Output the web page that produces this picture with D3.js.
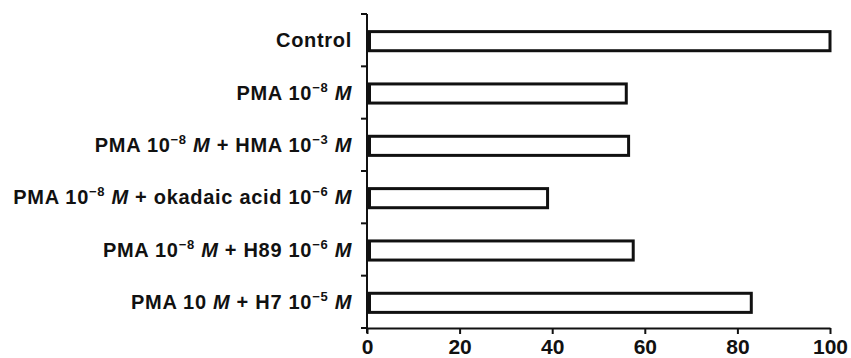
<!DOCTYPE html>
<html>
<head>
<meta charset="utf-8">
<script src="https://cdn.jsdelivr.net/npm/d3@7"></script>
<style>
  body { margin: 0; background: #fff; }
  svg text { font-family: "Liberation Sans", Arial, sans-serif; font-weight: bold; fill: #111; }
</style>
</head>
<body>
<svg id="chart" width="851" height="358"></svg>
<script>
// labels: "^" starts a superscript, a lone "M" is set in italics
var categories = [
  "Control",
  "PMA 10^-8 M",
  "PMA 10^-8 M + HMA 10^-3 M",
  "PMA 10^-8 M + okadaic acid 10^-6 M",
  "PMA 10^-8 M + H89 10^-6 M",
  "PMA 10 M + H7 10^-5 M"
];
var values = [100, 56, 56.5, 39, 57.5, 83];
var xTicks = [0, 20, 40, 60, 80, 100];

var svg = d3.select("#chart");

var x = d3.scaleLinear().domain([0, 100]).range([367, 830]);
var y = d3.scaleBand().domain(categories).range([14, 328]);

// bars
var barH = y.bandwidth() * 0.365;
svg.append("g")
  .selectAll("rect")
  .data(categories)
  .enter().append("rect")
  .attr("x", x(0) + 2.5)
  .attr("y", d => y(d) + y.bandwidth() / 2 - barH / 2 + 1)
  .attr("width", (d, i) => x(values[i]) - x(0) - 2.5)
  .attr("height", barH)
  .attr("fill", "#fff")
  .attr("stroke", "#111")
  .attr("stroke-width", 3);

// y axis: line plus ticks at band edges
var yEdges = categories.map(d => y(d)).concat([y.range()[1]]);
var ya = svg.append("g");
ya.append("line")
  .attr("x1", x(0)).attr("x2", x(0))
  .attr("y1", y.range()[0]).attr("y2", y.range()[1] + 5)
  .attr("stroke", "#111").attr("stroke-width", 2);
ya.selectAll(".yt")
  .data(yEdges)
  .enter().append("line")
  .attr("x1", x(0) - 6).attr("x2", x(0))
  .attr("y1", d => d).attr("y2", d => d)
  .attr("stroke", "#111").attr("stroke-width", 2);

// category labels with superscripts and italic M
var lab = ya.selectAll(".lab")
  .data(categories)
  .enter().append("text")
  .attr("x", x(0) - 15)
  .attr("y", d => y(d) + y.bandwidth() / 2 + 7)
  .attr("text-anchor", "end")
  .style("font-size", "20px")
  .style("letter-spacing", "0.7px");

lab.each(function(d) {
  var t = d3.select(this);
  var raised = false;
  d.split(" ").forEach(function(word, wi) {
    var sp = wi > 0 ? " " : "";
    var back = raised ? 8 : null;
    raised = false;
    if (word.indexOf("^") >= 0) {
      var parts = word.split("^");
      t.append("tspan").attr("dy", back).text(sp + parts[0]);
      t.append("tspan")
        .attr("dy", -8)
        .style("font-size", "13px")
        .text(parts[1].replace("-", "\u2212"));
      raised = true;
    } else if (word == "M") {
      t.append("tspan").attr("dy", back).text(sp);
      t.append("tspan").style("font-style", "italic").text("M");
    } else {
      t.append("tspan").attr("dy", back).text(sp + word);
    }
  });
});

// x axis
var xAxis = d3.axisBottom(x).tickValues(xTicks).tickSize(6).tickPadding(5).tickSizeOuter(0);
var xg = svg.append("g")
  .attr("transform", "translate(0," + y.range()[1] + ")")
  .call(xAxis);
xg.select(".domain").attr("stroke", "#111").attr("stroke-width", 2);
xg.selectAll(".tick line").attr("stroke", "#111").attr("stroke-width", 2);
xg.selectAll(".tick text")
  .style("font-size", "21px")
  .style("font-family", "'Liberation Sans', Arial, sans-serif")
  .style("font-weight", "bold")
  .attr("fill", "#111");
</script>
</body>
</html>
